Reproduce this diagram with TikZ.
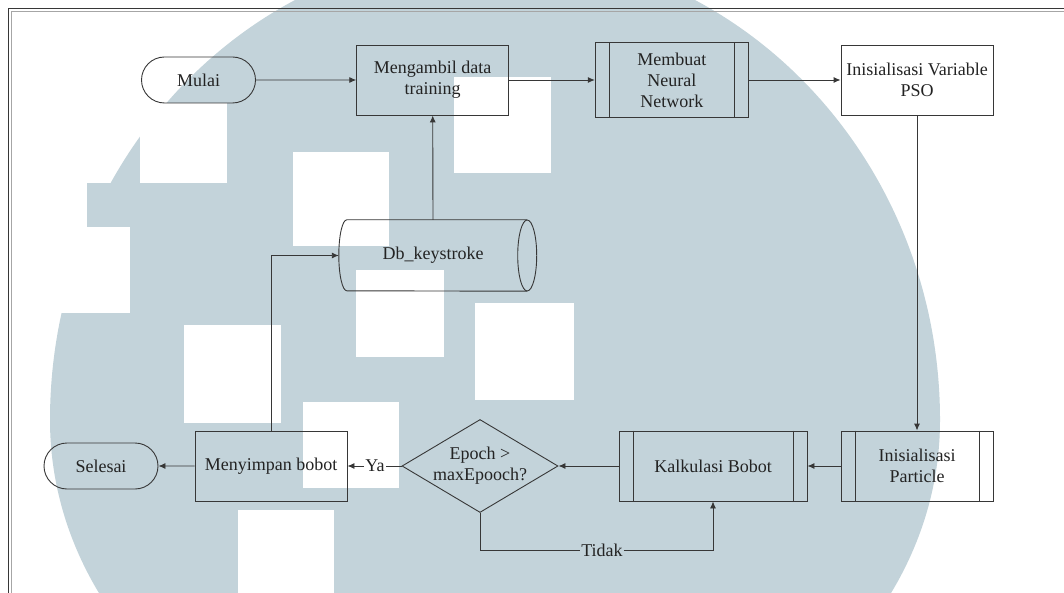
\documentclass[tikz,border=0pt]{standalone}
\usepackage{fontspec}
\setmainfont{Liberation Serif}
\newfontfamily\tnr{Liberation Serif}
\usetikzlibrary{shapes.misc,shapes.geometric,arrows.meta}
\definecolor{wm}{RGB}{195,211,218}
\definecolor{ln}{RGB}{55,55,55}
\definecolor{tx}{RGB}{35,35,35}
\begin{document}
\begin{tikzpicture}[x=1pt,y=-1pt,
  txt/.style={text=tx, font=\tnr\fontsize{18}{21}\selectfont},
  conn/.style={draw=ln, line width=0.9pt},
  arr/.style={conn, -{Latex[length=7pt,width=6pt]}},
  box/.style={conn, rectangle, minimum width=152pt, minimum height=70pt, inner sep=2pt, align=center, txt},
  term/.style={conn, rounded rectangle, minimum width=118pt, minimum height=46pt, inner sep=2pt, txt},
  dec/.style={conn, diamond, aspect=1.68, inner sep=-2pt, minimum width=156pt, minimum height=93pt, align=center, txt},
  lbl/.style={inner sep=1pt, txt}]
\useasboundingbox (0,0) rectangle (1064,593);
\clip (0,0) rectangle (1064,593);
% watermark background
\fill[white] (0,0) rectangle (1064,593);
\fill[wm] (50,420) arc[start angle=180, end angle=0, x radius=445pt, y radius=470pt]
               arc[start angle=0, end angle=-180, x radius=445pt, y radius=379pt] -- cycle;
\fill[wm] (87,183) rectangle (130,227);
\fill[white] (0,227) rectangle (130,313);
\fill[white] (140,103) rectangle (227,183);
\fill[white] (293,152) rectangle (389,246);
\fill[white] (454,77) rectangle (551,173);
\fill[white] (356,270) rectangle (444,357);
\fill[white] (475,303) rectangle (574,400);
\fill[white] (184,325) rectangle (281,423);
\fill[white] (303,402) rectangle (399,488);
\fill[white] (238,510) rectangle (334,600);
% frame
\draw[draw=ln, line width=1.4pt] (8.5,8.5) rectangle (1080,610);
\draw[draw=gray!70, line width=0.9pt] (11.5,11) rectangle (1080,610);
% nodes
\node[term] (mulai) at (198.5,80) {Mulai};
\node[box] (ambil) at (432.7,80) {Mengambil data\\training};
\node[box, minimum width=153pt, minimum height=75pt] (nn) at (671.8,80) {Membuat\\Neural\\Network};
\node[box] (pso) at (917,80) {Inisialisasi Variable\\PSO};
\node[minimum width=188pt, minimum height=71pt, inner sep=0pt, txt] (db) at (433,255.5) {Db\_keystroke};
\node[box] (simpan) at (271,466) {Menyimpan bobot};
\node[term] (selesai) at (101,466) {Selesai};
\node[dec] (cek) at (480,466) {Epoch >\\maxEpooch?};
\node[box, minimum width=188pt] (kalk) at (713,466) {Kalkulasi Bobot};
\node[box] (part) at (917,466) {Inisialisasi\\Particle};
\node[lbl] (ya) at (375,466) {Ya};
\node[lbl] (tidak) at (602,550) {Tidak};
% subroutine bars
\foreach \n in {nn,kalk,part}{
  \draw[conn] ([xshift=14.5pt]\n.north west) -- ([xshift=14.5pt]\n.south west);
  \draw[conn] ([xshift=-14.5pt]\n.north east) -- ([xshift=-14.5pt]\n.south east);
}
% database cylinder
\draw[conn] (db.north east) -- ([xshift=8pt]db.north west)
  arc[start angle=90, end angle=270, x radius=8pt, y radius=35.5pt] -- (db.south east);
\draw[conn] (db.east) ellipse[x radius=9.5pt, y radius=35.5pt];
% connectors
\draw[arr] (mulai) -- (ambil);
\draw[arr] (ambil) -- (nn);
\draw[arr] (nn) -- (pso);
\draw[arr] (pso) -- (part);
\draw[arr] (part) -- (kalk);
\draw[arr] (kalk) -- (cek);
\draw[conn] (cek) -- (ya);
\draw[arr] (ya) -- (simpan);
\draw[arr] (simpan) -- (selesai);
\draw[arr] (simpan.north) |- (db.west);
\draw[arr] (db.north) -- (ambil.south);
\draw[conn] (cek.south) |- (tidak.west);
\draw[arr] (tidak.east) -| (kalk.south);
\end{tikzpicture}
\end{document}
